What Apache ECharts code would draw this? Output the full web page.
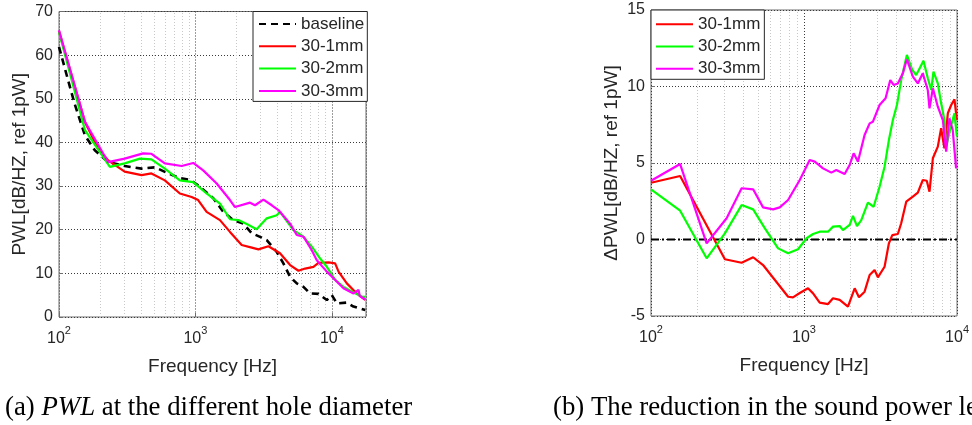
<!DOCTYPE html>
<html><head><meta charset="utf-8">
<script src="https://cdn.jsdelivr.net/npm/echarts@6/dist/echarts.min.js"></script>
<style>html,body{margin:0;padding:0;background:#fff}#c{width:972px;height:425px}</style>
</head><body><div id="c"></div>
<script>
// ---------- data ----------
const pwlBaseline = [[100,61.9],[113,55.8],[130,48.9],[155,41.6],[183,38.2],[229,35.5],[303,34.6],[403,34.0],[505,34.3],[632,32.9],[770,31.8],[888,31.5],[938,31.2],[1020,30.4],[1080,29.8],[1352,27.2],[1601,24.1],[1896,22.2],[2245,21.4],[2588,19.2],[3062,18.2],[3333,17.6],[3947,14.9],[4414,12.3],[4945,9.2],[5535,7.7],[6195,6.9],[6930,5.4],[7980,5.3],[9190,3.9],[10000,5.0],[10890,3.1],[12880,3.3],[14410,2.4],[17580,1.6]];
const pwl1mm = [[100,65.5],[155,44.7],[193,38.6],[229,35.9],[303,33.3],[403,32.5],[476,32.9],[597,31.3],[769,28.3],[938,27.5],[1047,26.8],[1208,24.1],[1513,22.2],[1792,19.5],[2183,16.5],[2588,15.9],[2894,15.5],[3427,16.2],[4170,14.6],[4945,11.9],[5690,10.6],[6370,11.1],[7330,11.5],[7980,12.4],[9460,12.5],[10570,12.3],[11200,10.4],[12880,7.7],[15240,5.4],[17580,3.9]];
const pwl2mm = [[100,65.3],[155,42.8],[236,34.4],[303,35.2],[392,36.3],[476,36.1],[597,34.0],[769,31.3],[964,30.9],[1208,28.3],[1513,26.0],[1792,22.4],[2065,22.2],[2378,21.3],[2810,20.1],[3333,22.6],[3947,23.3],[4170,24.1],[5225,19.9],[6195,18.4],[7130,16.1],[8205,13.4],[9190,11.5],[10570,8.5],[12170,6.9],[14410,5.6],[16600,4.7],[17580,4.6]];
const pwl3mm = [[100,65.7],[155,44.7],[229,35.5],[303,36.3],[414,37.5],[476,37.4],[597,35.2],[792,34.6],[964,35.3],[1140,33.6],[1432,30.6],[1792,26.8],[1950,25.2],[2515,26.2],[2735,25.6],[3150,26.9],[3630,25.6],[4060,24.5],[4945,21.4],[5535,18.8],[6195,18.4],[7130,15.3],[7760,13.0],[9190,10.4],[10280,8.9],[12170,6.6],[14410,5.4],[15700,6.2],[16000,4.8],[17580,4.0]];

const d1mm = [[100,3.71],[155,4.15],[304,-1.29],[391,-1.52],[465,-1.16],[540,-1.67],[787,-3.74],[847,-3.78],[938,-3.5],[1062,-3.19],[1146,-3.52],[1266,-4.13],[1435,-4.22],[1547,-3.84],[1710,-3.95],[1937,-4.39],[2143,-3.19],[2286,-3.78],[2488,-3.41],[2684,-2.32],[2891,-1.99],[3039,-2.47],[3360,-1.78],[3587,-0.25],[3775,0.29],[4104,0.36],[4316,1.06],[4656,2.47],[5143,2.8],[5543,3.06],[5975,3.89],[6341,3.84],[6607,3.12],[6950,5.31],[7488,6.07],[7870,7.27],[8270,5.96],[8708,8.25],[9160,8.79],[9620,9.16],[9970,7.81]];
const d2mm = [[100,3.28],[155,1.88],[231,-1.23],[304,0.4],[391,2.25],[465,1.97],[555,0.73],[677,-0.58],[787,-0.9],[914,-0.64],[1039,0.08],[1146,0.36],[1266,0.51],[1435,0.51],[1547,0.84],[1710,0.88],[1796,0.62],[1987,0.95],[2089,1.54],[2218,0.88],[2367,1.27],[2615,2.41],[2851,2.14],[3117,3.45],[3360,4.76],[3587,6.5],[3808,7.81],[4047,8.79],[4316,10.42],[4700,12.06],[5095,11.08],[5408,10.75],[5625,11.08],[6035,11.69],[6438,10.54],[6775,9.77],[7015,10.97],[7488,10.2],[7870,8.9],[8270,7.81],[8490,6.07],[9160,7.48],[9620,8.25],[9970,6.72]];
const d3mm = [[100,3.84],[155,4.93],[231,-0.25],[312,1.39],[391,3.35],[465,3.28],[540,2.1],[628,1.97],[694,2.1],[787,2.58],[938,3.89],[1089,5.2],[1175,5.09],[1331,4.65],[1509,4.37],[1626,4.54],[1843,4.28],[1987,4.87],[2110,5.63],[2251,5.09],[2488,6.83],[2684,7.59],[2820,7.70],[3117,8.79],[3412,9.23],[3662,10.42],[3849,10.1],[4104,10.2],[4425,10.86],[4700,11.78],[5143,10.64],[5543,10.2],[5975,10.86],[6438,9.77],[6607,8.57],[6950,9.88],[7488,8.68],[8074,7.81],[8490,5.74],[8920,7.92],[9370,7.16],[9860,4.65]];
const zeroLine = [[100,0],[10000,0]];

const minorGridFreqs = [200,300,400,500,600,700,800,900,2000,3000,4000,5000,6000,7000,8000,9000];
const legendLeft = ['baseline','30-1mm','30-2mm','30-3mm'];
const legendRight = ['30-1mm','30-2mm','30-3mm'];
const captionA = ['(a) ', 'PWL', ' at the different hole diameter'];
const captionB = '(b) The reduction in the sound power level';

// ---------- styles ----------
const SANS = 'Liberation Sans, Arial, Helvetica, sans-serif';
const SERIF = 'Liberation Serif, Times New Roman, serif';
const TXT = '#262626';
const AX = '#6e6e6e';
const RED = '#ff0000', GREEN = '#00ff00', MAG = '#ff00ff';

function xAxisCfg(gi, max){
  return {
    type:'log', logBase:10, gridIndex:gi, min:100, max:max,
    name:'Frequency [Hz]', nameLocation:'middle', nameGap:40,
    nameTextStyle:{fontFamily:SANS, fontSize:19, color:TXT},
    axisLine:{show:false},
    axisTick:{show:true, inside:true, length:4, lineStyle:{color:AX}},
    axisLabel:{
      margin:8, showMaxLabel: max===10000, showMinLabel:true,
      formatter:function(v){ const e=Math.round(Math.log10(v)); return '{b|10}{s|'+e+'}'; },
      rich:{
        b:{fontFamily:SANS, fontSize:16, color:TXT, lineHeight:22, verticalAlign:'bottom'},
        s:{fontFamily:SANS, fontSize:11, color:TXT, lineHeight:12, verticalAlign:'top'}
      }
    },
    splitLine:{show:true, lineStyle:{color:'#3a3a3a', type:[1,2], width:1}},
    minorTick:{show:false}
  };
}
function yAxisCfg(gi, min, max, interval, name){
  return {
    type:'value', gridIndex:gi, min:min, max:max, interval:interval,
    name:name, nameLocation:'middle', nameGap:30,
    nameTextStyle:{fontFamily:SANS, fontSize:19, color:TXT},
    axisLine:{show:false},
    axisTick:{show:true, inside:true, length:4, lineStyle:{color:AX}},
    axisLabel:{margin:6, fontFamily:SANS, fontSize:16, color:TXT},
    splitLine:{show:true, lineStyle:{color:'#3a3a3a', type:[1,2], width:1}}
  };
}
function lineSeries(name, data, color, gi, extra){
  return Object.assign({
    name:name, type:'line', xAxisIndex:gi, yAxisIndex:gi, data:data,
    symbol:'none', smooth:false, z:3,
    lineStyle:{color:color, width:2.2}, itemStyle:{color:color}
  }, extra||{});
}
function minorGridSeries(gi){
  return {
    name:'minor'+gi, type:'line', xAxisIndex:gi, yAxisIndex:gi, data:[], symbol:'none',
    markLine:{
      silent:true, symbol:['none','none'], z:1, animation:false,
      label:{show:false},
      lineStyle:{color:'#c8c8c8', type:[1,2], width:1},
      data: minorGridFreqs.map(f=>({xAxis:f}))
    }
  };
}
function legendCfg(data, left, top, padding){
  return {
    data:data, orient:'vertical', left:left, top:top,
    itemWidth:37, itemHeight:18, itemGap:5.3,
    itemStyle:{opacity:0, borderWidth:0},
    padding:padding, borderColor:'#262626', borderWidth:1, backgroundColor:'#fff',
    textStyle:{fontFamily:SANS, fontSize:17, color:TXT},
    selectedMode:false, z:10
  };
}

const chart = echarts.init(document.getElementById('c'), null, {renderer:'canvas'});
chart.setOption({
  animation:false,
  backgroundColor:'#fff',
  grid:[
    {left:59, top:11.5, width:307, height:305.5, show:true, borderColor:AX, borderWidth:1, backgroundColor:'transparent', containLabel:false},
    {left:651, top:10, width:307, height:306, show:true, borderColor:AX, borderWidth:1, backgroundColor:'transparent', containLabel:false}
  ],
  xAxis:[ xAxisCfg(0, 17800), xAxisCfg(1, 10000) ],
  yAxis:[ yAxisCfg(0, 0, 70, 10, 'PWL[dB/HZ, ref 1pW]'), yAxisCfg(1, -5, 15, 5, '\u0394PWL[dB/HZ, ref 1pW]') ],
  legend:[
    legendCfg(legendLeft, 253, 11.5, [4,3,2,5]),
    legendCfg(legendRight, 651, 10, [5.7,4,2,4])
  ],
  series:[
    minorGridSeries(0), minorGridSeries(1),
    lineSeries('baseline', pwlBaseline, '#000', 0, {lineStyle:{color:'#000', width:2.6, type:[7,5]}}),
    lineSeries('30-1mm', pwl1mm, RED, 0),
    lineSeries('30-2mm', pwl2mm, GREEN, 0),
    lineSeries('30-3mm', pwl3mm, MAG, 0),
    lineSeries('zero', zeroLine, '#000', 1, {lineStyle:{color:'#000', width:2.2, type:[8,3,2,3]}, z:2}),
    lineSeries('30-1mm', d1mm, RED, 1),
    lineSeries('30-2mm', d2mm, GREEN, 1),
    lineSeries('30-3mm', d3mm, MAG, 1)
  ],
  graphic:[
    {type:'text', x:5, y:408, silent:true, style:{
      text:'{n|'+captionA[0]+'}{i|'+captionA[1]+'}{n|'+captionA[2]+'}',
      verticalAlign:'middle', align:'left',
      rich:{ n:{fontFamily:SERIF, fontSize:26.8, fill:'#000'}, i:{fontFamily:SERIF, fontSize:26.8, fontStyle:'italic', fill:'#000'} }
    }},
    {type:'text', x:553, y:408, silent:true, style:{
      text:captionB, verticalAlign:'middle', align:'left',
      fontFamily:SERIF, fontSize:26.8, fill:'#000'
    }}
  ]
});
</script></body></html>
